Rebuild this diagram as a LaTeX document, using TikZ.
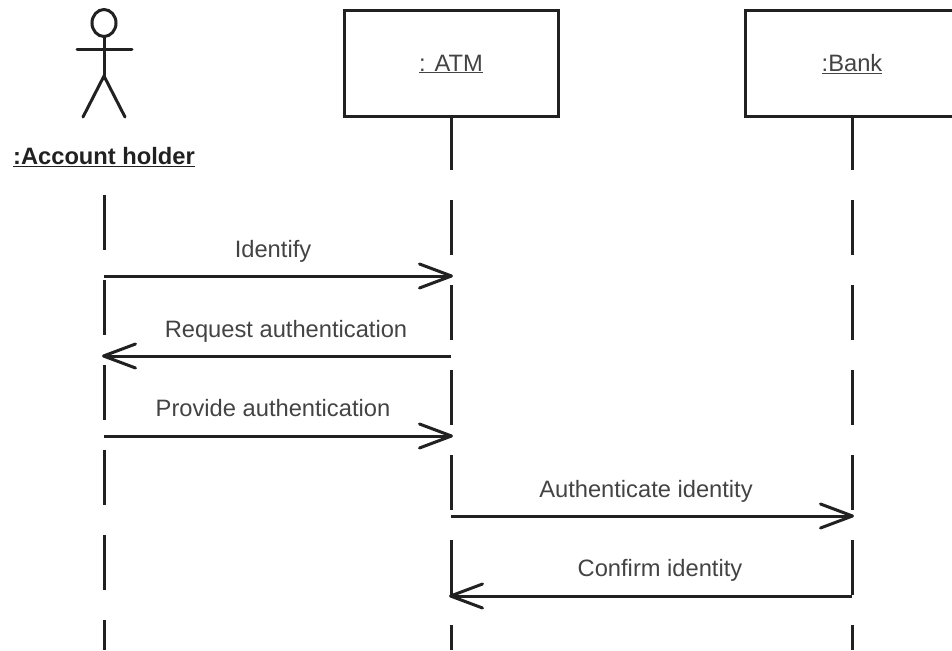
\documentclass[tikz,border=0pt]{standalone}
\usepackage{fontspec}
\setmainfont{Liberation Sans}
\usetikzlibrary{arrows.meta,shapes.geometric}
\definecolor{ink}{gray}{0.13}
\tikzset{
  x=1pt,y=-1pt,
  every node/.style={inner sep=0pt,outer sep=0pt,text=ink!85!white},
  objbox/.style={draw=ink,line width=3pt,minimum width=214pt,minimum height=106pt,anchor=center,font=\fontsize{23.7pt}{26pt}\selectfont},
  lifeline/.style={draw=ink,line width=3pt,dash pattern=on 55pt off 30pt},
  msg/.style={draw=ink,line width=3pt,-{Straight Barb[length=32pt,width=24pt,line width=3pt,round]},shorten >=-2pt},
  msglabel/.style={font=\fontsize{23.7pt}{26pt}\selectfont,anchor=base},
  stick/.style={draw=ink,line width=3pt,line cap=round},
}
\begin{document}
\begin{tikzpicture}
\useasboundingbox (0,0) rectangle (952,650);
\clip (0,0) rectangle (952,650);
\node[objbox] (atm) at (451,64) {\underline{: ATM}};
\node[objbox] (bank) at (852,64) {\underline{:Bank}};
\node[font=\bfseries\fontsize{23.7pt}{26pt}\selectfont,text=ink] (holder) at (104,157) {\underline{:Account holder}};
% actor
\node[draw=ink,line width=3pt,ellipse,minimum width=24pt,minimum height=27pt] (head) at (104,23) {};
\coordinate (hip) at (104,76);
\coordinate (armL) at (77,50);
\coordinate (armR) at (132,50);
\coordinate (legL) at (83,117);
\coordinate (legR) at (125,117);
\draw[stick] (head.south) -- (hip);
\draw[stick] (armL) -- (armR);
\draw[stick] (legL) -- (hip) -- (legR);
% lifeline ends
\coordinate (holderTop) at (104,195);
\coordinate (holderEnd) at (104,650);
\coordinate (atmEnd) at (451,650);
\coordinate (bankEnd) at (852,650);
\draw[lifeline] (holderTop) -- (holderEnd);
\draw[lifeline,dash phase=2pt] (atm.south) -- (atmEnd);
\draw[lifeline,dash phase=2pt] (bank.south) -- (bankEnd);
% message end points
\coordinate (a1) at (104,276); \coordinate (b1) at (451,276);
\coordinate (a2) at (104,356); \coordinate (b2) at (451,356);
\coordinate (a3) at (104,436); \coordinate (b3) at (451,436);
\coordinate (b4) at (451,516); \coordinate (c4) at (852,516);
\coordinate (b5) at (451,596); \coordinate (c5) at (852,596);
\draw[msg] (a1) -- (b1);
\draw[msg] (b2) -- (a2);
\draw[msg] (a3) -- (b3);
\draw[msg] (b4) -- (c4);
\draw[msg] (c5) -- (b5);
\node[msglabel] (l1) at (273,257) {Identify};
\node[msglabel] (l2) at (286,337) {Request authentication};
\node[msglabel] (l3) at (273,416) {Provide authentication};
\node[msglabel] (l4) at (646,497) {Authenticate identity};
\node[msglabel] (l5) at (660,576) {Confirm identity};
\end{tikzpicture}
\end{document}
